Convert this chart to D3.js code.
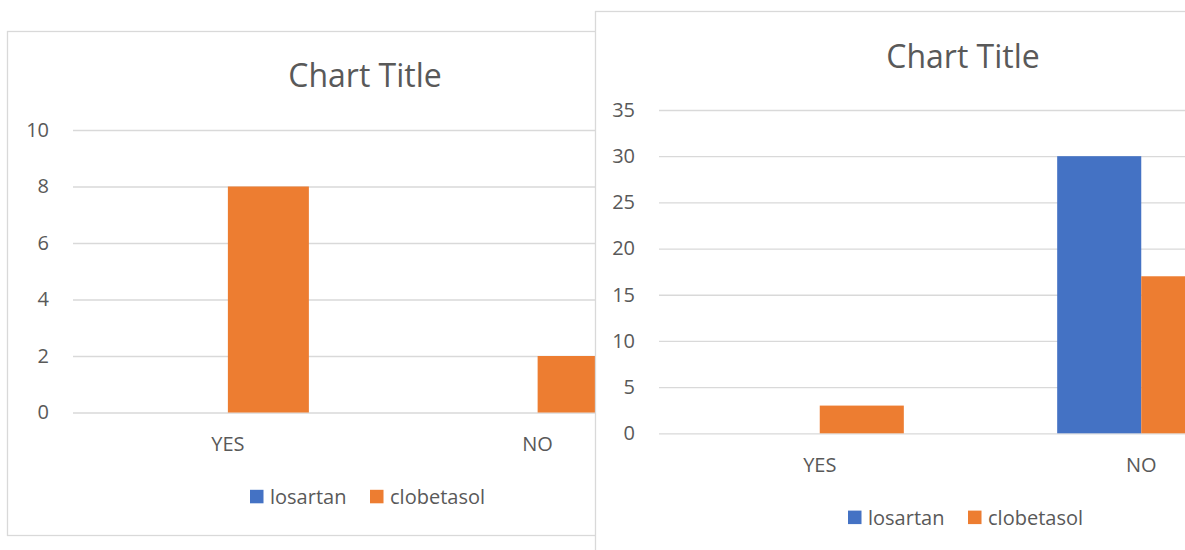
<!DOCTYPE html>
<html>
<head>
<meta charset="utf-8">
<script src="https://cdn.jsdelivr.net/npm/d3@7"></script>
<style>
  html, body { margin: 0; padding: 0; background: #ffffff; }
  svg { display: block; font-family: "Open Sans", "Noto Sans", sans-serif; }
</style>
</head>
<body>
<svg id="chart" width="1185" height="550"></svg>
<script>
// Categories and series shared by both charts
const categories = ["YES", "NO"];
const seriesNames = ["losartan", "clobetasol"];
const seriesColors = ["#4472C4", "#ED7D31"];

// First chart values
const firstLosartan = [0, 0];
const firstClobetasol = [8, 2];
const firstTicks = [0, 2, 4, 6, 8, 10];

// Second chart values
const secondLosartan = [0, 30];
const secondClobetasol = [3, 17];
const secondTicks = [0, 5, 10, 15, 20, 25, 30, 35];

const titleText = "Chart Title";

const svg = d3.select("#chart");

function drawChart(cfg) {
  const g = svg.append("g");

  // Chart area with border
  g.append("rect")
    .attr("x", cfg.box.x + 0.5).attr("y", cfg.box.y + 0.5)
    .attr("width", cfg.box.w).attr("height", cfg.box.h)
    .attr("fill", "#ffffff").attr("stroke", "#D9D9D9").attr("stroke-width", 1.3);

  const cx = cfg.box.x + cfg.box.w / 2;

  // Title
  g.append("text")
    .attr("x", cx).attr("y", cfg.titleY)
    .attr("text-anchor", "middle")
    .attr("font-size", 32).attr("fill", "#595959")
    .text(titleText);

  const y = d3.scaleLinear().domain(cfg.yDomain).range([cfg.plot.bottom, cfg.plot.top]);
  const x = d3.scaleBand().domain(categories).range([cfg.plot.left, cfg.plot.right]).padding(0);
  const barW = x.bandwidth() * 0.2615;
  const xs = d3.scaleBand().domain(seriesNames).range([-barW, barW]).padding(0);

  // Gridlines and value labels
  const yAxis = g.append("g")
    .attr("transform", `translate(${cfg.plot.left},0)`)
    .call(d3.axisLeft(y).tickValues(cfg.ticks)
      .tickSize(-(cfg.plot.right - cfg.plot.left)).tickPadding(24));
  yAxis.select(".domain").remove();
  yAxis.selectAll(".tick line").attr("stroke", "#D9D9D9").attr("stroke-width", 1.3);
  yAxis.selectAll(".tick text").attr("font-size", 20).attr("fill", "#595959")
    .attr("font-family", "\"Open Sans\", sans-serif");

  // Bars
  const rows = categories.map((c, i) => ({ cat: c, vals: cfg.series.map(s => s[i]) }));
  seriesNames.forEach((name, si) => {
    g.append("g").selectAll("rect")
      .data(rows)
      .join("rect")
      .attr("x", d => x(d.cat) + x.bandwidth() / 2 + xs(name))
      .attr("width", xs.bandwidth())
      .attr("y", d => y(d.vals[si]))
      .attr("height", d => y(0) - y(d.vals[si]))
      .attr("fill", seriesColors[si]);
  });

  // Category labels
  const xAxis = g.append("g")
    .attr("transform", `translate(0,${cfg.plot.bottom})`)
    .call(d3.axisBottom(x).tickSize(0).tickPadding(cfg.xPad));
  xAxis.select(".domain").remove();
  xAxis.selectAll(".tick text").attr("font-size", 20).attr("fill", "#595959")
    .attr("font-family", "\"Open Sans\", sans-serif");

  // Legend
  const lg = g.append("g").attr("transform", `translate(${cx - 115},${cfg.plot.bottom + 84})`);
  let offset = 0;
  seriesNames.forEach((name, si) => {
    const item = lg.append("g").attr("transform", `translate(${offset},0)`);
    item.append("rect")
      .attr("x", 0).attr("y", -6.7).attr("width", 13.5).attr("height", 13.5)
      .attr("fill", seriesColors[si]);
    const t = item.append("text")
      .attr("x", 20).attr("y", 7.3)
      .attr("font-size", 20).attr("fill", "#595959")
      .text(name);
    offset += 20 + t.node().getComputedTextLength() + 23.6;
  });
}

drawChart({
  box: { x: 7, y: 31, w: 716, h: 504 },
  titleY: 87,
  plot: { left: 73, right: 692.5, top: 130, bottom: 412.5 },
  yDomain: [0, 10],
  ticks: firstTicks,
  series: [firstLosartan, firstClobetasol],
  xPad: 24
});

drawChart({
  box: { x: 595, y: 11, w: 736, h: 560 },
  titleY: 67.7,
  plot: { left: 659, right: 1302, top: 110, bottom: 433.3 },
  yDomain: [0, 35],
  ticks: secondTicks,
  series: [secondLosartan, secondClobetasol],
  xPad: 25
});
</script>
</body>
</html>
